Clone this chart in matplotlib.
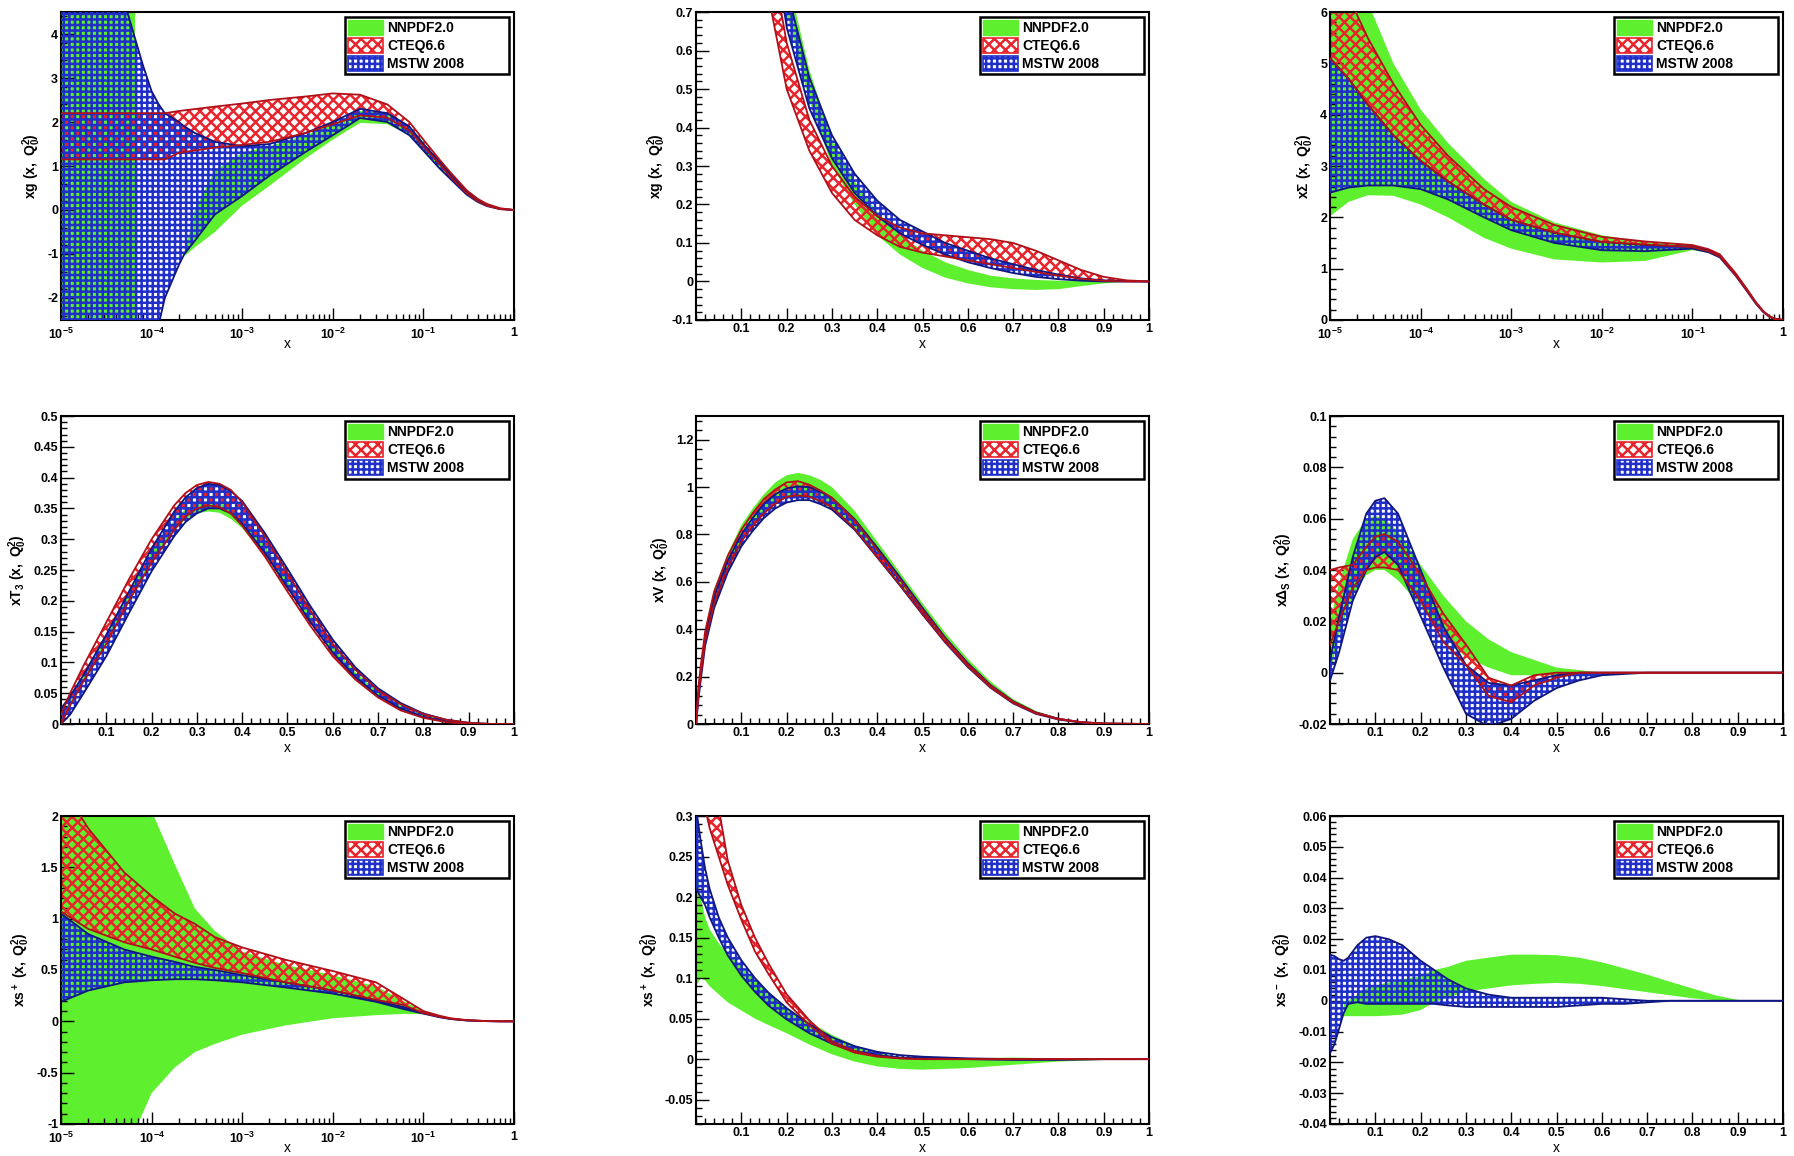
import numpy as np
import matplotlib
matplotlib.use("Agg")
import matplotlib.pyplot as plt
from matplotlib.patches import Patch
from matplotlib.ticker import MultipleLocator, LogLocator, FuncFormatter, NullFormatter

plt.rcParams['font.family'] = ['Liberation Sans', 'DejaVu Sans']
plt.rcParams['font.weight'] = 'bold'
plt.rcParams['mathtext.fontset'] = 'custom'
plt.rcParams['mathtext.rm'] = 'Liberation Sans:bold'
plt.rcParams['mathtext.it'] = 'Liberation Sans:bold'
plt.rcParams['mathtext.bf'] = 'Liberation Sans:bold'
plt.rcParams['mathtext.default'] = 'rm'
plt.rcParams['hatch.linewidth'] = 1.8

nan = np.nan
SETS = ["NNPDF2.0", "CTEQ6.6", "MSTW 2008"]

# --- panel 1: xg, log x ---
g1_x_nn = [1e-5, 3e-5, 6.6e-5, 1e-4, 2.3e-4, 3e-4, 5e-4, 1e-3, 2e-3, 5e-3, 1e-2, 2e-2, 4e-2, 7e-2, 0.1, 0.15, 0.2, 0.3, 0.4, 0.5, 0.7, 1.0]
g1_lo_nn = [-12, -12, -12, nan, -1.05, -0.85, -0.5, 0.1, 0.55, 1.17, 1.6, 1.98, 1.95, 1.7, 1.35, 0.95, 0.7, 0.35, 0.18, 0.09, 0.02, 0]
g1_hi_nn = [12, 12, 12, nan, -1.0, 0.0, 0.9, 1.3, 1.45, 1.7, 1.95, 2.25, 2.2, 1.92, 1.55, 1.1, 0.8, 0.42, 0.23, 0.12, 0.03, 0]
g1_x_ct = [1e-5, 1.4e-4, 2e-4, 5e-4, 1e-3, 2e-3, 5e-3, 1e-2, 2e-2, 4e-2, 7e-2, 0.1, 0.15, 0.2, 0.3, 0.4, 0.5, 0.7, 1.0]
g1_hi_ct = [2.2, 2.2, 2.25, 2.35, 2.42, 2.5, 2.58, 2.65, 2.62, 2.4, 2.0, 1.6, 1.15, 0.85, 0.45, 0.25, 0.14, 0.04, 0]
g1_lo_ct = [1.15, 1.15, 1.3, 1.42, 1.48, 1.55, 1.75, 1.95, 2.15, 2.1, 1.8, 1.45, 1.05, 0.75, 0.38, 0.2, 0.1, 0.02, 0]
g1_x_ms = [1e-5, 2e-5, 4e-5, 5.4e-5, 8e-5, 1e-4, 1.2e-4, 1.4e-4, 2e-4, 2.3e-4, 3e-4, 5e-4, 1e-3, 2e-3, 5e-3, 1e-2, 2e-2, 4e-2, 7e-2, 0.1, 0.15, 0.2, 0.3, 0.4, 0.5, 0.7, 1.0]
g1_hi_ms = [12, 9, 5.6, 4.5, 3.3, 2.7, 2.4, 2.2, 2.0, 1.9, 1.75, 1.55, 1.45, 1.5, 1.75, 2.0, 2.3, 2.2, 1.9, 1.5, 1.1, 0.8, 0.42, 0.23, 0.12, 0.03, 0]
g1_lo_ms = [-12, -12, -12, -12, -12, -12, -2.6, -2.0, -1.25, -1.0, -0.7, -0.1, 0.32, 0.78, 1.32, 1.7, 2.09, 2.0, 1.7, 1.35, 0.95, 0.7, 0.35, 0.18, 0.09, 0.02, 0]

# --- panel 2: xg, linear x ---
g2_x = [0.15, 0.17, 0.2, 0.25, 0.3, 0.35, 0.4, 0.45, 0.5, 0.55, 0.6, 0.65, 0.7, 0.75, 0.8, 0.85, 0.9, 0.95, 1.0]
g2_hi_nn = [1.3, 1.1, 0.8, 0.55, 0.37, 0.26, 0.18, 0.12, 0.08, 0.05, 0.03, 0.015, 0.008, 0.004, 0.002, 0.001, 0, 0, 0]
g2_lo_nn = [1.1, 0.95, 0.7, 0.47, 0.3, 0.2, 0.12, 0.07, 0.035, 0.01, -0.005, -0.015, -0.02, -0.022, -0.02, -0.012, -0.005, -0.001, 0]
g2_hi_ct = [0.95, 0.82, 0.62, 0.42, 0.3, 0.22, 0.17, 0.14, 0.125, 0.12, 0.115, 0.11, 0.1, 0.08, 0.055, 0.03, 0.012, 0.003, 0]
g2_lo_ct = [0.8, 0.68, 0.5, 0.34, 0.23, 0.16, 0.12, 0.09, 0.075, 0.065, 0.055, 0.045, 0.035, 0.025, 0.015, 0.007, 0.002, 0, 0]
g2_hi_ms = [1.2, 1.0, 0.76, 0.53, 0.38, 0.28, 0.21, 0.16, 0.13, 0.1, 0.08, 0.06, 0.045, 0.03, 0.018, 0.008, 0.003, 0.001, 0]
g2_lo_ms = [1.05, 0.9, 0.66, 0.45, 0.32, 0.23, 0.17, 0.125, 0.095, 0.07, 0.05, 0.035, 0.022, 0.012, 0.006, 0.002, 0, 0, 0]

# --- panel 3: x Sigma, log x ---
sg_x = [1e-5, 1.6e-5, 2.6e-5, 5e-5, 1e-4, 2e-4, 5e-4, 1e-3, 3e-3, 1e-2, 3e-2, 0.1, 0.15, 0.2, 0.3, 0.4, 0.5, 0.6, 0.7, 0.8, 1.0]
sg_hi_nn = [9, 7.6, 6.2, 5.0, 4.1, 3.45, 2.75, 2.3, 1.9, 1.65, 1.52, 1.45, 1.37, 1.27, 0.9, 0.6, 0.35, 0.18, 0.08, 0.03, 0]
sg_lo_nn = [2.02, 2.3, 2.43, 2.42, 2.25, 2.0, 1.6, 1.39, 1.18, 1.12, 1.15, 1.36, 1.31, 1.22, 0.86, 0.57, 0.33, 0.17, 0.07, 0.02, 0]
sg_hi_ct = [7.2, 6.3, 5.5, 4.6, 3.8, 3.2, 2.55, 2.2, 1.85, 1.62, 1.53, 1.46, 1.38, 1.28, 0.91, 0.6, 0.35, 0.18, 0.08, 0.03, 0]
sg_lo_ct = [5.1, 4.7, 4.2, 3.6, 3.1, 2.7, 2.25, 1.95, 1.7, 1.52, 1.47, 1.42, 1.34, 1.24, 0.87, 0.57, 0.33, 0.17, 0.07, 0.02, 0]
sg_hi_ms = [5.1, 4.7, 4.2, 3.6, 3.1, 2.7, 2.25, 1.95, 1.7, 1.52, 1.46, 1.43, 1.36, 1.26, 0.89, 0.59, 0.34, 0.17, 0.075, 0.025, 0]
sg_lo_ms = [2.48, 2.58, 2.62, 2.62, 2.55, 2.35, 2.0, 1.75, 1.5, 1.36, 1.34, 1.39, 1.32, 1.22, 0.86, 0.56, 0.32, 0.16, 0.07, 0.02, 0]

# --- panel 4: x T3 ---
t3_x = [0, 0.02, 0.05, 0.1, 0.15, 0.2, 0.25, 0.275, 0.3, 0.325, 0.35, 0.375, 0.4, 0.45, 0.5, 0.55, 0.6, 0.65, 0.7, 0.75, 0.8, 0.85, 0.9, 0.95, 1.0]
t3_hi_ct = [0.015, 0.05, 0.095, 0.165, 0.235, 0.3, 0.355, 0.375, 0.388, 0.393, 0.39, 0.38, 0.36, 0.305, 0.245, 0.185, 0.13, 0.088, 0.055, 0.032, 0.016, 0.007, 0.002, 0, 0]
t3_lo_ct = [0, 0.03, 0.07, 0.13, 0.2, 0.262, 0.315, 0.337, 0.35, 0.355, 0.352, 0.342, 0.322, 0.272, 0.215, 0.16, 0.11, 0.072, 0.043, 0.022, 0.01, 0.003, 0, 0, 0]
t3_hi_ms = [0.025, 0.045, 0.08, 0.145, 0.215, 0.285, 0.345, 0.368, 0.383, 0.39, 0.388, 0.378, 0.362, 0.31, 0.252, 0.192, 0.137, 0.092, 0.058, 0.034, 0.017, 0.007, 0.002, 0, 0]
t3_lo_ms = [0, 0.015, 0.05, 0.11, 0.18, 0.248, 0.305, 0.328, 0.342, 0.35, 0.35, 0.342, 0.325, 0.278, 0.222, 0.166, 0.116, 0.076, 0.046, 0.025, 0.011, 0.004, 0, 0, 0]
t3_hi_nn = [0.005, 0.04, 0.08, 0.145, 0.215, 0.28, 0.33, 0.349, 0.358, 0.362, 0.36, 0.35, 0.335, 0.29, 0.235, 0.178, 0.126, 0.084, 0.052, 0.03, 0.015, 0.006, 0.002, 0, 0]
t3_lo_nn = [0, 0.03, 0.07, 0.13, 0.2, 0.265, 0.315, 0.332, 0.342, 0.345, 0.343, 0.333, 0.318, 0.273, 0.22, 0.165, 0.115, 0.076, 0.046, 0.025, 0.012, 0.004, 0, 0, 0]

# --- panel 5: x V ---
v_x = [0, 0.005, 0.01, 0.02, 0.04, 0.07, 0.1, 0.125, 0.15, 0.175, 0.2, 0.225, 0.25, 0.275, 0.3, 0.35, 0.4, 0.45, 0.5, 0.55, 0.6, 0.65, 0.7, 0.75, 0.8, 0.85, 0.9, 1.0]
v_hi_nn = [0, 0.15, 0.24, 0.4, 0.57, 0.72, 0.84, 0.91, 0.97, 1.02, 1.05, 1.06, 1.05, 1.03, 1.0, 0.9, 0.77, 0.64, 0.51, 0.385, 0.275, 0.18, 0.105, 0.055, 0.025, 0.01, 0.003, 0]
v_lo_nn = [0, 0.12, 0.2, 0.35, 0.51, 0.66, 0.77, 0.835, 0.89, 0.93, 0.955, 0.96, 0.955, 0.935, 0.91, 0.82, 0.7, 0.58, 0.46, 0.343, 0.24, 0.152, 0.087, 0.044, 0.019, 0.006, 0.001, 0]
v_hi_ct = [0, 0.15, 0.24, 0.39, 0.56, 0.71, 0.82, 0.89, 0.95, 0.99, 1.02, 1.025, 1.01, 0.985, 0.955, 0.86, 0.735, 0.61, 0.482, 0.36, 0.252, 0.162, 0.094, 0.048, 0.022, 0.008, 0.002, 0]
v_lo_ct = [0, 0.12, 0.2, 0.35, 0.51, 0.66, 0.77, 0.835, 0.89, 0.93, 0.96, 0.965, 0.96, 0.94, 0.915, 0.825, 0.705, 0.588, 0.465, 0.347, 0.244, 0.155, 0.089, 0.045, 0.02, 0.007, 0.002, 0]
v_hi_ms = [0, 0.13, 0.22, 0.37, 0.54, 0.69, 0.8, 0.87, 0.93, 0.97, 0.995, 1.003, 1.0, 0.98, 0.955, 0.865, 0.745, 0.62, 0.49, 0.365, 0.257, 0.165, 0.096, 0.049, 0.022, 0.008, 0.002, 0]
v_lo_ms = [0, 0.1, 0.18, 0.33, 0.49, 0.64, 0.75, 0.815, 0.87, 0.91, 0.935, 0.945, 0.945, 0.928, 0.905, 0.82, 0.703, 0.585, 0.462, 0.344, 0.24, 0.153, 0.087, 0.043, 0.019, 0.006, 0.001, 0]

# --- panel 6: x Delta_S ---
ds_x = [0, 0.02, 0.05, 0.08, 0.1, 0.12, 0.15, 0.2, 0.25, 0.3, 0.35, 0.4, 0.45, 0.5, 0.55, 0.6, 0.7, 0.8, 1.0]
ds_hi_nn = [0.02, 0.035, 0.052, 0.06, 0.061, 0.06, 0.055, 0.042, 0.03, 0.02, 0.013, 0.008, 0.005, 0.002, 0.001, 0, 0, 0, 0]
ds_lo_nn = [0, 0.015, 0.03, 0.038, 0.04, 0.04, 0.036, 0.026, 0.014, 0.006, 0.002, -0.001, -0.001, -0.001, -0.001, 0, 0, 0, 0]
ds_hi_ct = [0.04, 0.041, 0.042, 0.049, 0.053, 0.054, 0.051, 0.038, 0.023, 0.011, -0.002, -0.005, -0.001, 0, 0, 0, 0, 0, 0]
ds_lo_ct = [0.011, 0.02, 0.033, 0.04, 0.041, 0.041, 0.04, 0.028, 0.012, 0.003, -0.009, -0.0115, -0.005, -0.002, 0, 0, 0, 0, 0]
ds_hi_ms = [0.005, 0.022, 0.045, 0.062, 0.067, 0.068, 0.062, 0.04, 0.018, 0.003, -0.004, -0.005, -0.003, -0.001, 0, 0, 0, 0, 0]
ds_lo_ms = [-0.003, 0.008, 0.028, 0.04, 0.045, 0.047, 0.042, 0.022, 0.002, -0.016, -0.021, -0.018, -0.011, -0.006, -0.003, -0.001, 0, 0, 0]

# --- panel 7: x s+, log x ---
sp7_x = [1e-5, 2e-5, 5e-5, 1e-4, 1.8e-4, 3e-4, 5e-4, 1e-3, 3e-3, 1e-2, 3e-2, 6e-2, 0.1, 0.15, 0.2, 0.3, 0.5, 0.7, 1.0]
sp7_hi_nn = [4, 3.2, 2.5, 2.05, 1.53, 1.1, 0.88, 0.68, 0.55, 0.45, 0.34, 0.2, 0.095, 0.05, 0.028, 0.011, 0.002, 0, 0]
sp7_lo_nn = [-3, -2.2, -1.3, -0.7, -0.45, -0.3, -0.22, -0.13, -0.04, 0.03, 0.06, 0.072, 0.07, 0.04, 0.022, 0.008, 0.001, 0, 0]
sp7_hi_ct = [2.3, 1.88, 1.45, 1.22, 1.05, 0.95, 0.82, 0.72, 0.6, 0.49, 0.38, 0.22, 0.1, 0.055, 0.03, 0.012, 0.003, 0.001, 0]
sp7_lo_ct = [1.07, 0.9, 0.77, 0.7, 0.63, 0.57, 0.52, 0.47, 0.38, 0.3, 0.21, 0.16, 0.08, 0.045, 0.025, 0.01, 0.002, 0, 0]
sp7_hi_ms = [1.05, 0.85, 0.7, 0.63, 0.58, 0.53, 0.5, 0.45, 0.38, 0.3, 0.2, 0.14, 0.08, 0.045, 0.025, 0.01, 0.002, 0, 0]
sp7_lo_ms = [0.19, 0.3, 0.38, 0.4, 0.41, 0.41, 0.4, 0.38, 0.33, 0.27, 0.19, 0.12, 0.075, 0.04, 0.022, 0.008, 0.002, 0, 0]

# --- panel 8: x s+, linear x ---
sp8_x = [0, 0.01, 0.02, 0.03, 0.05, 0.07, 0.1, 0.13, 0.16, 0.2, 0.25, 0.3, 0.35, 0.4, 0.45, 0.5, 0.6, 0.7, 0.8, 0.9, 1.0]
sp8_hi_nn = [0.25, 0.2, 0.175, 0.16, 0.143, 0.13, 0.115, 0.097, 0.083, 0.063, 0.046, 0.03, 0.017, 0.008, 0.003, 0.001, 0.001, 0.002, 0.001, 0, 0]
sp8_lo_nn = [0.09, 0.1, 0.097, 0.09, 0.08, 0.07, 0.06, 0.05, 0.042, 0.032, 0.018, 0.006, -0.003, -0.009, -0.012, -0.013, -0.011, -0.007, -0.003, -0.001, 0]
sp8_x_ct = [0.01, 0.02, 0.03, 0.05, 0.07, 0.1, 0.13, 0.16, 0.2, 0.25, 0.3, 0.35, 0.4, 0.45, 0.5, 0.6, 1.0]
sp8_hi_ct = [0.52, 0.44, 0.38, 0.31, 0.245, 0.19, 0.15, 0.118, 0.08, 0.048, 0.022, 0.01, 0.004, 0.001, 0, 0, 0]
sp8_lo_ct = [0.36, 0.31, 0.285, 0.25, 0.215, 0.172, 0.133, 0.105, 0.07, 0.042, 0.019, 0.008, 0.003, 0.001, 0, 0, 0]
sp8_hi_ms = [0.31, 0.27, 0.235, 0.21, 0.175, 0.15, 0.122, 0.1, 0.082, 0.063, 0.043, 0.027, 0.016, 0.009, 0.005, 0.003, 0.001, 0, 0, 0, 0]
sp8_lo_ms = [0.21, 0.2, 0.19, 0.175, 0.15, 0.128, 0.103, 0.083, 0.066, 0.049, 0.032, 0.019, 0.01, 0.005, 0.002, 0.001, 0, -0.001, -0.001, 0, 0]

# --- panel 9: x s-, linear x ---
sm_x_ms = [0, 0.01, 0.02, 0.03, 0.04, 0.06, 0.08, 0.1, 0.13, 0.16, 0.2, 0.23, 0.26, 0.3, 0.35, 0.4, 0.45, 0.5, 0.55, 0.6, 0.65, 0.7, 0.75, 0.8, 0.9, 1.0]
sm_hi_ms = [0.015, 0.0145, 0.0135, 0.013, 0.014, 0.018, 0.0205, 0.021, 0.02, 0.018, 0.013, 0.01, 0.007, 0.004, 0.002, 0.001, 0.001, 0.001, 0.001, 0.001, 0.0005, 0, 0, 0, 0, 0]
sm_lo_ms = [-0.017, -0.014, -0.009, -0.004, -0.001, -0.0005, -0.001, -0.001, -0.001, -0.001, -0.001, -0.001, -0.0015, -0.002, -0.002, -0.002, -0.002, -0.002, -0.0015, -0.001, -0.001, -0.0005, 0, 0, 0, 0]
sm_x_nn = [0.03, 0.04, 0.06, 0.08, 0.1, 0.13, 0.16, 0.2, 0.23, 0.26, 0.3, 0.35, 0.4, 0.45, 0.5, 0.55, 0.6, 0.65, 0.7, 0.75, 0.8, 0.85, 0.9, 1.0]
sm_hi_nn = [0, 0, 0.002, 0.004, 0.005, 0.006, 0.007, 0.008, 0.01, 0.011, 0.013, 0.014, 0.015, 0.015, 0.0148, 0.014, 0.0125, 0.0105, 0.0085, 0.0062, 0.004, 0.0018, 0.0003, 0]
sm_lo_nn = [-0.005, -0.005, -0.005, -0.005, -0.005, -0.0048, -0.0045, -0.003, -0.0005, 0.001, 0.003, 0.004, 0.005, 0.0055, 0.0058, 0.0055, 0.0048, 0.0038, 0.0028, 0.0018, 0.0008, 0.0002, 0, 0]

GREEN = '#5ef02e'
RED = '#e8242c'
BLUE = '#1f2fc8'
RED_EDGE = '#b01018'
BLUE_EDGE = '#101880'
RED_HATCH = 'xxx'
BLUE_HATCH = '+++'

panels = [
    dict(log=True, ylim=(-2.5, 4.5), yt=np.arange(-2, 5, 1), ym=0.2, lab=r'$xg\ (x,\ Q_0^2)$',
         nn=(g1_x_nn, g1_lo_nn, g1_hi_nn), ct=(g1_x_ct, g1_lo_ct, g1_hi_ct), ms=(g1_x_ms, g1_lo_ms, g1_hi_ms)),
    dict(log=False, ylim=(-0.1, 0.7), yt=np.arange(-0.1, 0.71, 0.1), ym=0.02, lab=r'$xg\ (x,\ Q_0^2)$',
         nn=(g2_x, g2_lo_nn, g2_hi_nn), ct=(g2_x, g2_lo_ct, g2_hi_ct), ms=(g2_x, g2_lo_ms, g2_hi_ms)),
    dict(log=True, ylim=(0, 6), yt=np.arange(0, 7, 1), ym=0.2, lab=r'$x\Sigma\ (x,\ Q_0^2)$',
         nn=(sg_x, sg_lo_nn, sg_hi_nn), ct=(sg_x, sg_lo_ct, sg_hi_ct), ms=(sg_x, sg_lo_ms, sg_hi_ms)),
    dict(log=False, ylim=(0, 0.5), yt=np.arange(0, 0.51, 0.05), ym=0.01, lab=r'$xT_3\ (x,\ Q_0^2)$',
         nn=(t3_x, t3_lo_nn, t3_hi_nn), ct=(t3_x, t3_lo_ct, t3_hi_ct), ms=(t3_x, t3_lo_ms, t3_hi_ms)),
    dict(log=False, ylim=(0, 1.3), yt=np.arange(0, 1.21, 0.2), ym=0.04, lab=r'$xV\ (x,\ Q_0^2)$',
         nn=(v_x, v_lo_nn, v_hi_nn), ct=(v_x, v_lo_ct, v_hi_ct), ms=(v_x, v_lo_ms, v_hi_ms)),
    dict(log=False, ylim=(-0.02, 0.1), yt=np.arange(-0.02, 0.101, 0.02), ym=0.004, lab=r'$x\Delta_S\ (x,\ Q_0^2)$',
         nn=(ds_x, ds_lo_nn, ds_hi_nn), ct=(ds_x, ds_lo_ct, ds_hi_ct), ms=(ds_x, ds_lo_ms, ds_hi_ms)),
    dict(log=True, ylim=(-1, 2), yt=np.arange(-1, 2.01, 0.5), ym=0.1, lab=r'$xs^+\ (x,\ Q_0^2)$',
         nn=(sp7_x, sp7_lo_nn, sp7_hi_nn), ct=(sp7_x, sp7_lo_ct, sp7_hi_ct), ms=(sp7_x, sp7_lo_ms, sp7_hi_ms)),
    dict(log=False, ylim=(-0.08, 0.3), yt=np.arange(-0.05, 0.301, 0.05), ym=0.01, lab=r'$xs^+\ (x,\ Q_0^2)$',
         nn=(sp8_x, sp8_lo_nn, sp8_hi_nn), ct=(sp8_x_ct, sp8_lo_ct, sp8_hi_ct), ms=(sp8_x, sp8_lo_ms, sp8_hi_ms)),
    dict(log=False, ylim=(-0.04, 0.06), yt=np.arange(-0.04, 0.061, 0.01), ym=0.002, lab=r'$xs^-\ (x,\ Q_0^2)$',
         nn=(sm_x_nn, sm_lo_nn, sm_hi_nn), ct=None, ms=(sm_x_ms, sm_lo_ms, sm_hi_ms)),
]

fig = plt.figure(figsize=(17.94, 11.56), dpi=100)
lefts = [0.034, 0.388, 0.7414]
bottoms = [0.7232, 0.3737, 0.0277]
W, H = 0.2525, 0.2664


def fmt(v, pos):
    s = '%g' % round(v, 6)
    return '0' if s == '-0' else s


for i, p in enumerate(panels):
    ax = fig.add_axes([lefts[i % 3], bottoms[i // 3], W, H])
    x, lo, hi = p['nn']
    ax.fill_between(x, lo, hi, facecolor=GREEN, edgecolor='none', lw=0, zorder=1)
    if p['ct'] is not None:
        x, lo, hi = p['ct']
        ax.fill_between(x, lo, hi, facecolor='none', edgecolor=RED, hatch=RED_HATCH, lw=0, zorder=2)
        ax.plot(x, lo, color=RED_EDGE, lw=1.3, zorder=3.6)
        ax.plot(x, hi, color=RED_EDGE, lw=1.3, zorder=3.6)
    x, lo, hi = p['ms']
    ax.fill_between(x, lo, hi, facecolor='none', edgecolor=BLUE, hatch=BLUE_HATCH, lw=0, zorder=3)
    ax.plot(x, lo, color=BLUE_EDGE, lw=1.3, zorder=3.5)
    ax.plot(x, hi, color=BLUE_EDGE, lw=1.3, zorder=3.5)

    ax.tick_params(which='both', direction='in', top=False, right=False, labelsize=9, width=1)
    ax.tick_params(which='major', length=9, pad=2)
    ax.tick_params(which='minor', length=4.5)

    if p['log']:
        ax.set_xscale('log')
        ax.set_xlim(1e-5, 1)
        ax.set_xticks([1e-5, 1e-4, 1e-3, 1e-2, 1e-1, 1])
        ax.set_xticklabels([r'$10^{-5}$', r'$10^{-4}$', r'$10^{-3}$', r'$10^{-2}$', r'$10^{-1}$', '1'])
        ax.xaxis.set_minor_locator(LogLocator(base=10, subs=np.arange(2, 10)))
        ax.xaxis.set_minor_formatter(NullFormatter())
        ax.tick_params(axis='x', which='major', pad=5)
    else:
        ax.set_xlim(0, 1)
        ax.set_xticks(np.arange(0.1, 1.01, 0.1))
        ax.xaxis.set_major_formatter(FuncFormatter(fmt))
        ax.xaxis.set_minor_locator(MultipleLocator(0.02))
    ax.set_ylim(*p['ylim'])
    ax.set_yticks(p['yt'])
    ax.yaxis.set_major_formatter(FuncFormatter(fmt))
    ax.yaxis.set_minor_locator(MultipleLocator(p['ym']))

    for s in ax.spines.values():
        s.set_linewidth(1.5)
    ax.set_xlabel('x', fontsize=10, va='center')
    ax.xaxis.set_label_coords(0.5, -0.078)
    ax.set_ylabel(p['lab'], fontsize=10, labelpad=3)

    handles = [Patch(facecolor=GREEN, edgecolor=GREEN),
               Patch(facecolor='white', edgecolor=RED, hatch=RED_HATCH, lw=1.2),
               Patch(facecolor='white', edgecolor=BLUE, hatch=BLUE_HATCH, lw=1.2)]
    leg = ax.legend(handles, SETS, loc='upper left', bbox_to_anchor=(0.626, 0.771, 0.363, 0.213),
                    mode='expand', borderaxespad=0, fancybox=False, edgecolor='black', framealpha=1,
                    fontsize=10, handlelength=2.5, handleheight=1.25, labelspacing=0.2,
                    borderpad=0.25, handletextpad=0.3)
    leg.get_frame().set_linewidth(1.8)
    leg.set_zorder(10)

fig.savefig('out.png', dpi=100)
